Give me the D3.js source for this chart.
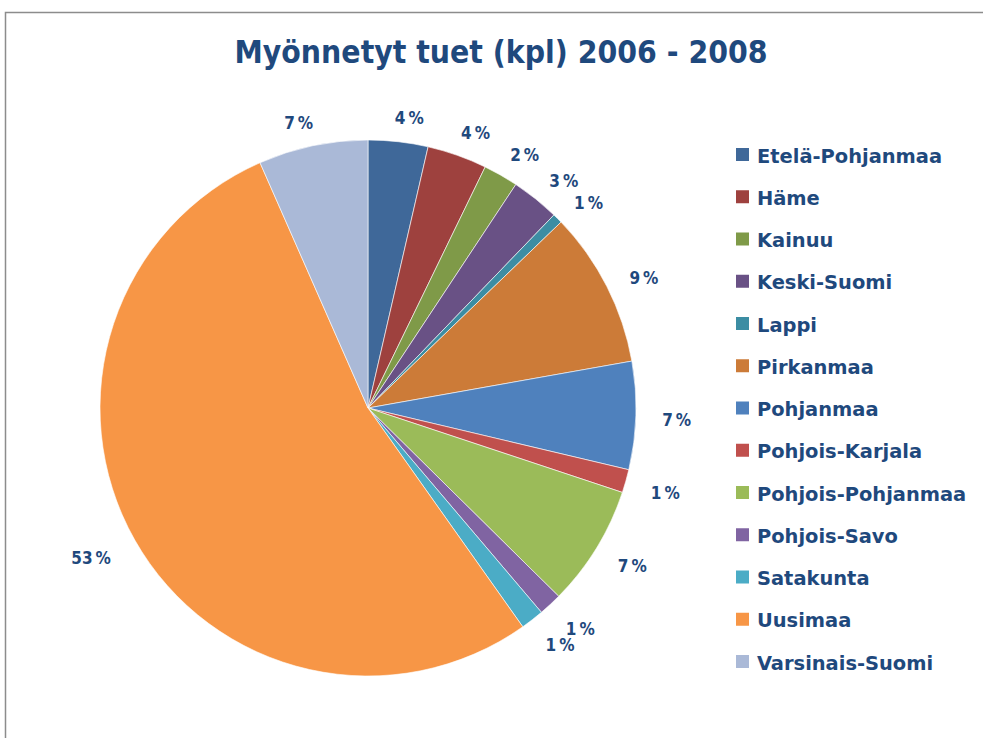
<!DOCTYPE html>
<html>
<head>
<meta charset="utf-8">
<script src="https://cdn.jsdelivr.net/npm/d3@7"></script>
<style>
  html, body { margin: 0; padding: 0; background: #fff; }
  svg { display: block; }
  text { font-family: "DejaVu Sans Condensed", "DejaVu Sans", sans-serif; font-weight: bold; }
</style>
</head>
<body>
<svg id="chart" width="983" height="738"></svg>
<script>
const title = "Myönnetyt tuet (kpl) 2006 - 2008";
const categories = ["Etelä-Pohjanmaa", "Häme", "Kainuu", "Keski-Suomi", "Lappi", "Pirkanmaa",
  "Pohjanmaa", "Pohjois-Karjala", "Pohjois-Pohjanmaa", "Pohjois-Savo", "Satakunta",
  "Uusimaa", "Varsinais-Suomi"];
const values = [3.6, 3.6, 2.1, 2.9, 0.6, 9.4, 6.5, 1.4, 7.3, 1.4, 1.4, 53.2, 6.6];
const colors = ["#3F6899", "#9E413E", "#7F9A48", "#695185", "#3C8DA3", "#CC7B38",
  "#4F81BD", "#C0504D", "#9BBB59", "#8064A2", "#4BACC6", "#F79646", "#AAB9D7"];

const textColor = "#1F497D";
const svg = d3.select("#chart");

// outer frame
svg.append("rect")
  .attr("x", 5.5).attr("y", 12.5)
  .attr("width", 1100).attr("height", 800)
  .attr("fill", "none").attr("stroke", "#8c8c8c").attr("stroke-width", 1.5);

// title
svg.append("text")
  .attr("x", 501).attr("y", 63)
  .attr("text-anchor", "middle")
  .attr("font-size", 32)
  .attr("textLength", 533).attr("lengthAdjust", "spacingAndGlyphs")
  .attr("fill", textColor)
  .text(title);

// pie
const cx = 368, cy = 408, r = 268;
const total = d3.sum(values);
const data = categories.map((c, i) => ({ name: c, value: values[i], color: colors[i] }));
const pie = d3.pie().value(d => d.value).sort(null);
const arcs = pie(data);
const arc = d3.arc().innerRadius(0).outerRadius(r);

const g = svg.append("g").attr("transform", `translate(${cx},${cy})`);
g.selectAll("path.slice").data(arcs).enter().append("path")
  .attr("class", "slice")
  .attr("d", arc)
  .attr("fill", d => d.data.color)
  .attr("stroke", "#ffffff").attr("stroke-width", 0.6);

// labels outside end: bounding box placed a fixed gap beyond the rim
const gap = 19;
const lbls = g.selectAll("text.lbl").data(arcs).enter().append("text")
  .attr("class", "lbl")
  .attr("text-anchor", "middle")
  .attr("dominant-baseline", "central")
  .attr("font-size", 17)
  .attr("fill", textColor)
  .text(d => Math.round(d.data.value / total * 100) + "\u2009%");
lbls.each(function(d) {
  const bb = this.getBBox();
  const w = bb.width, h = 17;
  const a = (d.startAngle + d.endAngle) / 2;
  const s = Math.sin(a), c = -Math.cos(a);
  const x = (r + gap) * s + s * w / 2 + Math.sign(s) * w * 0.25;
  const y = (r + gap) * c + c * h / 2 + 4;
  d3.select(this).attr("transform", `translate(${x},${y})`);
});

// legend
const legendY = d3.scalePoint().domain(categories).range([148, 655]);
const lg = svg.append("g");
const items = lg.selectAll("g.item").data(data).enter().append("g")
  .attr("class", "item")
  .attr("transform", d => `translate(736,${legendY(d.name)})`);
items.append("rect")
  .attr("width", 13).attr("height", 13)
  .attr("fill", d => d.color);
items.append("text")
  .attr("x", 21).attr("y", 14.5)
  .attr("font-size", 20)
  .attr("fill", textColor)
  .text(d => d.name)
  .each(function() {
    const len = this.getComputedTextLength();
    d3.select(this).attr("textLength", len * 1.08).attr("lengthAdjust", "spacingAndGlyphs");
  });
</script>
</body>
</html>
